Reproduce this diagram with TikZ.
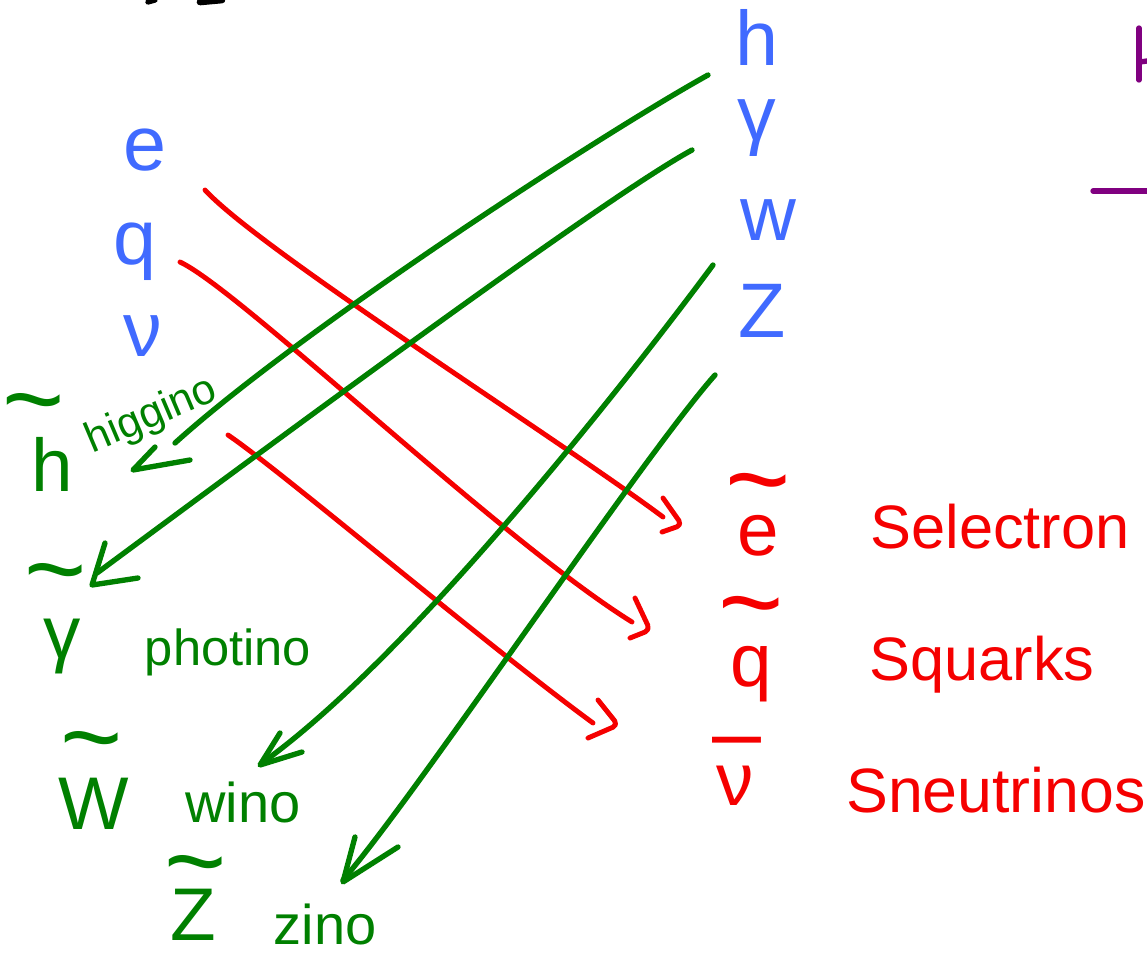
\documentclass[tikz,border=0pt]{standalone}
\usepackage{fontspec}
\setmainfont{Liberation Sans}
\usetikzlibrary{calc}
\definecolor{hblue}{RGB}{64,106,255}
\definecolor{hred}{RGB}{245,0,0}
\definecolor{hgreen}{RGB}{0,128,0}
\definecolor{hpurple}{RGB}{128,0,128}
\newcommand{\fs}[1]{\fontsize{#1}{#1}\selectfont}
\begin{document}
\begin{tikzpicture}[x=0.75pt,y=-0.75pt,
  stroke/.style={line width=4pt,line cap=round,line join=round},
  redline/.style={stroke,draw=hred,line width=3.7pt},
  greenline/.style={stroke,draw=hgreen},
  headstyle/.style={rounded corners=4pt},
  lbl/.style={inner sep=0pt,outer sep=0pt},
  bluetxt/.style={lbl,text=hblue,font=\fs{58}},
  redtxt/.style={lbl,text=hred,font=\fs{46}},
  redsym/.style={lbl,text=hred,font=\fs{56}},
  redtil/.style={lbl,text=hred,font=\fs{84}},
  greentxt/.style={lbl,text=hgreen,font=\fs{38}},
  greensym/.style={lbl,text=hgreen,font=\fs{56}},
  greentil/.style={lbl,text=hgreen,font=\fs{80}}
]
\useasboundingbox (0,0) rectangle (1147,958);

% blue particles
\node[bluetxt] (h) at (757,37) {h};
\node[bluetxt] (gam) at (757,128) {γ};
\node[bluetxt] (w) at (768,220) {w};
\node[bluetxt] (Z) at (762,311) {Z};
\node[bluetxt] (e) at (145,150) {e};
\node[bluetxt] (q) at (135,252) {q};
\node[bluetxt] (nu) at (143,336) {ν};

% red sparticles
\node[redtil] (etil) at (758,495) {\textasciitilde};
\node[redsym] (es) at (758,536) {e};
\node[redtxt] (sel) at (1000,527) {Selectron};
\node[redtil] (qtil) at (751,618) {\textasciitilde};
\node[redsym] (qs) at (751,674) {q};
\node[redsym,font=\fs{66}] (nubar) at (737,750) {–};
\node[redsym] (nus) at (735,786) {ν};
\node[redtxt] (squ) at (982,665) {Squarks};
\node[redtxt,font=\fs{47}] (sneu) at (996,790) {Sneutrinos};

% green sparticles
\node[greentil] (htil) at (34,414) {\textasciitilde};
\node[greensym] (hs) at (52,464) {h};
\node[greentxt,font=\fs{32},rotate=23] (higg) at (152,416) {higgino};
\node[greentil] (gtil) at (56,584) {\textasciitilde};
\node[greensym] (gs) at (62,646) {γ};
\node[greentxt] (phot) at (228,652) {photino};
\node[greentil] (wtil) at (92,752) {\textasciitilde};
\node[greensym] (ws) at (94,804) {W};
\node[greentxt,font=\fs{42}] (wino) at (243,802) {wino};
\node[greentil] (ztil) at (196,876) {\textasciitilde};
\node[greensym] (zs) at (193,915) {Z};
\node[greentxt,font=\fs{42}] (zino) at (325,924) {zino};

% red connectors
\coordinate (r1s) at (205,190); \coordinate (r1e) at (663,517); \coordinate (r1t) at (682,525);
\coordinate (r2s) at (180,262); \coordinate (r2e) at (632,622); \coordinate (r2t) at (650,630);
\coordinate (r3s) at (228,435); \coordinate (r3e) at (593,723); \coordinate (r3t) at (618,725);
\draw[redline] (r1s) .. controls (260,250) and (560,440) .. (r1e);
\draw[redline] (r2s) .. controls (240,290) and (500,540) .. (r2e);
\draw[redline] (r3s) .. controls (280,470) and (480,640) .. (r3e);
\draw[redline,headstyle] ($(r1t)+(-19,-27)$) -- (r1t) -- ($(r1t)+(-20,7)$);
\draw[redline,headstyle] ($(r2t)+(-15,-32)$) -- (r2t) -- ($(r2t)+(-20,8)$);
\draw[redline,headstyle] ($(r3t)+(-20,-25)$) -- (r3t) -- ($(r3t)+(-30,13)$);

% green connectors
\coordinate (g1s) at (708,75);  \coordinate (g1e) at (175,443); \coordinate (g1t) at (133,470);
\coordinate (g2s) at (692,150); \coordinate (g2e) at (97,573);  \coordinate (g2t) at (92,585);
\coordinate (g3s) at (713,265); \coordinate (g3e) at (262,763); \coordinate (g3t) at (260,765);
\coordinate (g4s) at (715,375); \coordinate (g4e) at (343,880); \coordinate (g4t) at (343,882);
\draw[greenline] (g1s) .. controls (600,135) and (300,330) .. (g1e);
\draw[greenline] (g2s) .. controls (600,200) and (250,460) .. (g2e);
\draw[greenline] (g3s) .. controls (650,350) and (420,650) .. (g3e);
\draw[greenline] (g4s) .. controls (640,460) and (420,790) .. (g4e);
\draw[greenline] ($(g1t)+(22,-23)$) -- (g1t) -- ($(g1t)+(57,-10)$);
\draw[greenline] ($(g2t)+(13,-42)$) -- (g2t) -- ($(g2t)+(46,-7)$);
\draw[greenline] ($(g3t)+(20,-32)$) -- (g3t) -- ($(g3t)+(42,-13)$);
\draw[greenline] ($(g4t)+(12,-45)$) -- (g4t) -- ($(g4t)+(55,-35)$);

% cut-off marks at the edges
\draw[stroke,draw=hpurple] (1139,28) -- (1139,80);
\draw[stroke,draw=hpurple] (1140,62) -- (1147,61);
\draw[stroke,draw=hpurple] (1093,191) -- (1147,191);
\draw[stroke,draw=black] (148,2) -- (155,0);
\draw[stroke,draw=black,line width=5pt] (200,2) -- (222,0);
\end{tikzpicture}
\end{document}
